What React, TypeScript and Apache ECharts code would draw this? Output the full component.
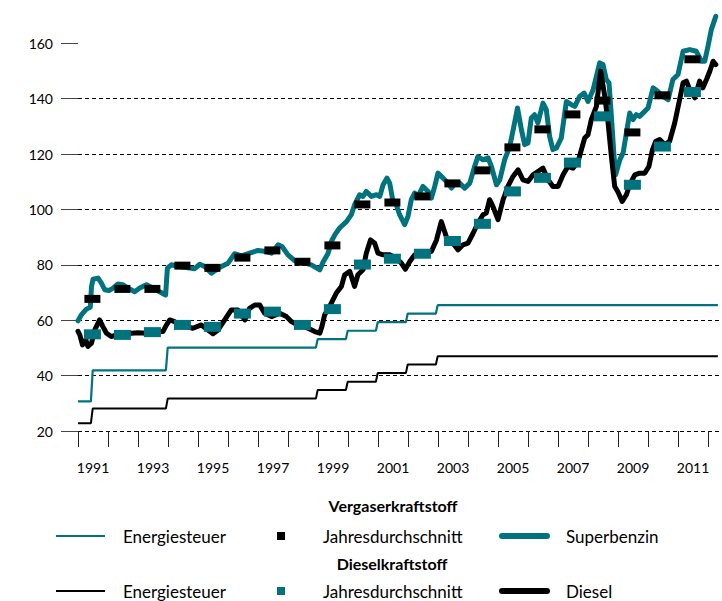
import React, { useEffect, useRef } from "react";
import * as echarts from "echarts";

const TEAL = "#00737e";
const BLACK = "#000000";
const FONT = "Lato";

// Energiesteuer (Vergaserkraftstoff) – Cent je Liter
const taxPetrol: [number, number][] = [
  [1991.0, 30.7], [1991.43, 30.7], [1991.49, 41.9], [1993.93, 41.9], [1993.99, 50.1],
  [1998.93, 50.1], [1998.99, 53.2], [1999.93, 53.2], [1999.99, 56.2], [2000.93, 56.2],
  [2000.99, 59.3], [2001.93, 59.3], [2001.99, 62.4], [2002.93, 62.4], [2002.99, 65.45],
  [2012.33, 65.45],
];

// Energiesteuer (Dieselkraftstoff)
const taxDiesel: [number, number][] = [
  [1991.0, 22.8], [1991.43, 22.8], [1991.49, 28.1], [1993.93, 28.1], [1993.99, 31.7],
  [1998.93, 31.7], [1998.99, 34.8], [1999.93, 34.8], [1999.99, 37.8], [2000.93, 37.8],
  [2000.99, 40.9], [2001.93, 40.9], [2001.99, 44.0], [2002.93, 44.0], [2002.99, 47.0],
  [2012.33, 47.0],
];

// Superbenzin monthly price
const superbenzin: [number, number][] = [
  [1991.0, 59.8], [1991.11, 61.9], [1991.28, 64.0], [1991.41, 64.7], [1991.45, 72.2],
  [1991.5, 74.8], [1991.67, 75.2], [1991.78, 73.4], [1991.89, 71.0], [1992.03, 70.7],
  [1992.17, 71.6], [1992.33, 73.1], [1992.5, 72.8], [1992.67, 71.6], [1992.89, 70.3],
  [1993.06, 71.6], [1993.28, 72.8], [1993.5, 71.6], [1993.72, 70.3], [1993.92, 69.1],
  [1993.98, 78.8], [1994.11, 80.0], [1994.39, 79.4], [1994.72, 78.8], [1994.89, 78.6],
  [1995.06, 80.2], [1995.22, 79.4], [1995.45, 77.0], [1995.61, 78.2], [1995.78, 79.4],
  [1996.0, 80.6], [1996.22, 84.0], [1996.45, 83.2], [1996.72, 84.2], [1997.0, 85.2],
  [1997.28, 84.8], [1997.45, 84.2], [1997.67, 87.2], [1997.8, 86.6], [1998.0, 83.6],
  [1998.22, 81.5], [1998.56, 80.6], [1998.78, 80.0], [1999.06, 78.2], [1999.17, 81.0],
  [1999.33, 84.0], [1999.45, 88.5], [1999.56, 90.8], [1999.72, 93.3], [1999.95, 95.6],
  [2000.11, 98.1], [2000.22, 101.7], [2000.39, 105.3], [2000.5, 104.7], [2000.61, 106.5],
  [2000.78, 104.7], [2000.95, 105.3], [2001.06, 104.7], [2001.17, 108.9], [2001.3, 111.3],
  [2001.39, 109.5], [2001.5, 102.9], [2001.61, 101.7], [2001.72, 98.1], [2001.89, 94.5],
  [2002.0, 97.5], [2002.11, 103.5], [2002.22, 105.9], [2002.33, 104.7], [2002.5, 108.3],
  [2002.67, 106.5], [2002.78, 104.1], [2002.89, 108.3], [2003.0, 113.1], [2003.17, 111.3],
  [2003.28, 110.1], [2003.45, 107.7], [2003.56, 109.5], [2003.72, 109.5], [2003.89, 107.7],
  [2004.06, 109.5], [2004.22, 115.5], [2004.33, 119.1], [2004.5, 117.9], [2004.67, 118.6],
  [2004.78, 115.5], [2004.95, 108.9], [2005.06, 110.7], [2005.22, 117.9], [2005.39, 122.7],
  [2005.53, 130.0], [2005.65, 136.6], [2005.78, 128.8], [2005.89, 123.4], [2006.0, 124.0],
  [2006.11, 133.0], [2006.22, 134.2], [2006.33, 131.2], [2006.5, 138.4], [2006.61, 136.0],
  [2006.72, 126.4], [2006.83, 121.6], [2006.95, 122.2], [2007.11, 125.8], [2007.28, 139.0],
  [2007.45, 137.8], [2007.56, 137.2], [2007.72, 140.8], [2007.87, 142.0], [2008.0, 139.0],
  [2008.17, 143.2], [2008.39, 152.9], [2008.5, 152.3], [2008.61, 146.9], [2008.7, 145.7],
  [2008.78, 133.6], [2008.86, 120.4], [2008.92, 112.5], [2009.06, 117.9], [2009.17, 120.4],
  [2009.28, 127.6], [2009.39, 134.8], [2009.5, 132.4], [2009.61, 134.2], [2009.72, 133.6],
  [2009.89, 135.4], [2010.0, 136.6], [2010.17, 143.9], [2010.33, 142.6], [2010.5, 140.8],
  [2010.67, 139.6], [2010.83, 146.9], [2011.0, 148.7], [2011.17, 157.1], [2011.39, 157.7],
  [2011.61, 157.1], [2011.78, 153.5], [2011.89, 153.5], [2012.0, 158.9], [2012.11, 164.9],
  [2012.26, 169.7],
];

// Diesel monthly price
const diesel: [number, number][] = [
  [1991.0, 56.0], [1991.06, 54.7], [1991.15, 51.1], [1991.26, 52.9], [1991.33, 50.5],
  [1991.45, 51.7], [1991.56, 56.5], [1991.72, 60.1], [1991.83, 57.7], [1991.95, 55.3],
  [1992.11, 54.1], [1992.28, 54.7], [1992.5, 54.3], [1992.78, 55.3], [1993.0, 55.5],
  [1993.28, 55.3], [1993.61, 55.9], [1993.83, 55.9], [1993.95, 58.3], [1994.06, 60.1],
  [1994.22, 59.5], [1994.39, 57.9], [1994.61, 57.7], [1994.83, 57.1], [1995.11, 58.3],
  [1995.33, 56.5], [1995.5, 55.1], [1995.67, 56.5], [1995.89, 60.1], [1996.11, 63.7],
  [1996.33, 63.7], [1996.56, 60.1], [1996.72, 64.3], [1996.89, 65.5], [1997.06, 65.5],
  [1997.22, 62.5], [1997.45, 61.3], [1997.72, 62.5], [1997.95, 61.3], [1998.11, 59.5],
  [1998.33, 58.3], [1998.67, 57.1], [1998.89, 55.9], [1999.06, 55.3], [1999.13, 57.7],
  [1999.22, 61.9], [1999.39, 65.0], [1999.61, 69.8], [1999.78, 72.2], [1999.89, 76.4],
  [2000.06, 77.6], [2000.22, 72.2], [2000.33, 76.4], [2000.5, 78.2], [2000.61, 84.2],
  [2000.75, 89.0], [2000.89, 87.8], [2001.0, 84.2], [2001.17, 83.6], [2001.39, 83.6],
  [2001.61, 82.4], [2001.78, 80.6], [2001.91, 78.4], [2002.06, 81.2], [2002.22, 83.6],
  [2002.39, 84.0], [2002.61, 84.8], [2002.78, 84.8], [2002.95, 89.0], [2003.11, 95.6],
  [2003.22, 92.0], [2003.33, 88.4], [2003.5, 87.8], [2003.67, 85.4], [2003.83, 87.2],
  [2004.0, 87.8], [2004.17, 91.4], [2004.33, 95.0], [2004.5, 98.1], [2004.61, 98.7],
  [2004.72, 103.5], [2004.83, 101.1], [2005.0, 96.3], [2005.17, 103.5], [2005.33, 108.3],
  [2005.5, 111.9], [2005.67, 114.3], [2005.83, 110.7], [2006.0, 110.1], [2006.17, 112.5],
  [2006.33, 113.7], [2006.5, 114.9], [2006.67, 110.7], [2006.83, 108.3], [2007.0, 108.3],
  [2007.17, 112.5], [2007.33, 115.5], [2007.5, 114.9], [2007.67, 117.3], [2007.78, 121.6],
  [2007.89, 125.8], [2008.0, 127.0], [2008.11, 132.4], [2008.28, 137.2], [2008.42, 150.0],
  [2008.56, 140.8], [2008.67, 131.2], [2008.78, 119.1], [2008.89, 108.3], [2008.99, 106.5],
  [2009.14, 102.9], [2009.28, 105.3], [2009.39, 108.9], [2009.56, 112.5], [2009.72, 113.1],
  [2009.89, 113.1], [2010.03, 115.5], [2010.15, 121.6], [2010.26, 124.6], [2010.39, 125.2],
  [2010.56, 123.4], [2010.72, 124.6], [2010.89, 131.2], [2011.03, 138.4], [2011.17, 145.7],
  [2011.28, 146.3], [2011.39, 143.3], [2011.56, 140.3], [2011.72, 146.3], [2011.83, 143.9],
  [2011.95, 146.9], [2012.06, 149.9], [2012.17, 153.5], [2012.26, 152.3],
];

// Jahresdurchschnitt
const avgYears = [
  1991, 1992, 1993, 1994, 1995, 1996, 1997, 1998, 1999, 2000, 2001,
  2002, 2003, 2004, 2005, 2006, 2007, 2008, 2009, 2010, 2011,
];
const avgPetrol = [
  67.7, 71.3, 71.3, 79.7, 78.9, 82.6, 85.2, 81.1, 87.0, 101.8, 102.5,
  104.7, 109.4, 114.1, 122.4, 128.9, 134.3, 139.3, 127.8, 141.2, 154.2,
];
const avgDiesel = [
  54.9, 54.7, 55.7, 58.3, 57.6, 62.4, 63.1, 58.3, 64.0, 80.1, 82.2,
  84.0, 88.6, 94.8, 106.5, 111.4, 116.9, 133.6, 108.9, 122.7, 142.4,
];

const yTicks = [20, 40, 60, 80, 100, 120, 140, 160];
const xTickYears = [
  1991, 1992, 1993, 1994, 1995, 1996, 1997, 1998, 1999, 2000, 2001,
  2002, 2003, 2004, 2005, 2006, 2007, 2008, 2009, 2010, 2011, 2012,
];
const xLabelYears = [1991, 1993, 1995, 1997, 1999, 2001, 2003, 2005, 2007, 2009, 2011];

export default function App() {
  const ref = useRef<HTMLDivElement>(null);
  useEffect(() => {
    if (!ref.current) return;
    const chart = echarts.init(ref.current, null, { renderer: "svg" });

    const legendText = (text: string, x: number, y: number, bold = false, center = false) => ({
      type: "text",
      x,
      y,
      silent: true,
      style: {
        text,
        fill: "#000",
        font: bold ? `bold 16px ${FONT}` : `17px ${FONT}`,
        align: center ? "center" : "left",
        verticalAlign: "middle",
        textAlign: center ? "center" : "left",
        textVerticalAlign: "middle",
      },
    });
    const legendLine = (y: number, color: string, width: number, x1: number, x2: number, round = false) => ({
      type: "line",
      silent: true,
      shape: { x1, y1: y, x2, y2: y },
      style: { stroke: color, lineWidth: width, lineCap: round ? "round" : "butt" },
    });
    const legendSquare = (y: number, color: string) => ({
      type: "rect",
      silent: true,
      shape: { x: 277, y: y - 4, width: 8, height: 8 },
      style: { fill: color },
    });

    const r1 = 536;
    const r2 = 591;

    chart.setOption({
      animation: false,
      grid: { left: 78, right: 2, top: 10, bottom: 170, containLabel: false },
      xAxis: {
        type: "value",
        min: 1991,
        max: 2012.4,
        interval: 1,
        axisLine: { show: false },
        axisTick: {
          show: true,
          length: 16,
          customValues: xTickYears,
          lineStyle: { color: "#222", width: 1 },
        },
        axisLabel: {
          customValues: xLabelYears.map((y) => y + 0.5),
          formatter: (v: number) => String(Math.floor(v)),
          margin: 29,
          fontSize: 14,
          fontFamily: FONT,
          color: "#000",
        },
        splitLine: { show: false },
      },
      yAxis: {
        type: "value",
        min: 20,
        max: 172,
        interval: 20,
        axisLine: { show: false },
        axisTick: {
          show: true,
          length: 17,
          customValues: yTicks,
          lineStyle: { color: "#444", width: 1 },
        },
        axisLabel: {
          customValues: yTicks,
          margin: 25,
          fontSize: 14,
          fontFamily: FONT,
          color: "#000",
        },
        splitLine: {
          show: true,
          showMaxLine: false,
          lineStyle: {
            type: [4, 3],
            width: 1,
            color: ["#000", "#000", "#000", "#000", "#000", "#000", "#000", "#000", "rgba(0,0,0,0)"],
          },
        },
      },
      series: [
        {
          name: "Energiesteuer Vergaserkraftstoff",
          type: "line",
          data: taxPetrol,
          showSymbol: false,
          lineStyle: { color: TEAL, width: 2.2 },
          z: 2,
        },
        {
          name: "Energiesteuer Dieselkraftstoff",
          type: "line",
          data: taxDiesel,
          showSymbol: false,
          lineStyle: { color: BLACK, width: 2 },
          z: 2,
        },
        {
          name: "Superbenzin",
          type: "line",
          data: superbenzin,
          showSymbol: false,
          lineStyle: { color: TEAL, width: 5, join: "round", cap: "round" },
          z: 3,
        },
        {
          name: "Diesel",
          type: "line",
          data: diesel,
          showSymbol: false,
          lineStyle: { color: BLACK, width: 5, join: "round", cap: "round" },
          z: 3,
        },
        {
          name: "Jahresdurchschnitt Vergaserkraftstoff",
          type: "scatter",
          data: avgYears.map((y, i) => [y + 0.48, avgPetrol[i]]),
          symbol: "rect",
          symbolSize: [16, 8],
          itemStyle: { color: BLACK, opacity: 1 },
          z: 5,
        },
        {
          name: "Jahresdurchschnitt Dieselkraftstoff",
          type: "scatter",
          data: avgYears.map((y, i) => [y + 0.48, avgDiesel[i]]),
          symbol: "rect",
          symbolSize: [17, 10],
          itemStyle: { color: TEAL, opacity: 1 },
          z: 5,
        },
      ],
      graphic: [
        legendText("Vergaserkraftstoff", 393, 505, true, true),
        legendLine(r1, TEAL, 2, 56, 105),
        legendText("Energiesteuer", 123, r1),
        legendSquare(r1, BLACK),
        legendText("Jahresdurchschnitt", 323, r1),
        legendLine(r1, TEAL, 6, 502, 547, true),
        legendText("Superbenzin", 566, r1),
        legendText("Dieselkraftstoff", 392, 563, true, true),
        legendLine(r2, BLACK, 2, 56, 105),
        legendText("Energiesteuer", 123, r2),
        legendSquare(r2, TEAL),
        legendText("Jahresdurchschnitt", 323, r2),
        legendLine(r2, BLACK, 6, 502, 547, true),
        legendText("Diesel", 566, r2),
      ],
    });
    return () => chart.dispose();
  }, []);

  return (
    <div
      ref={ref}
      style={{ position: "fixed", left: 0, top: 0, width: 722, height: 601, background: "#fff" }}
    />
  );
}
